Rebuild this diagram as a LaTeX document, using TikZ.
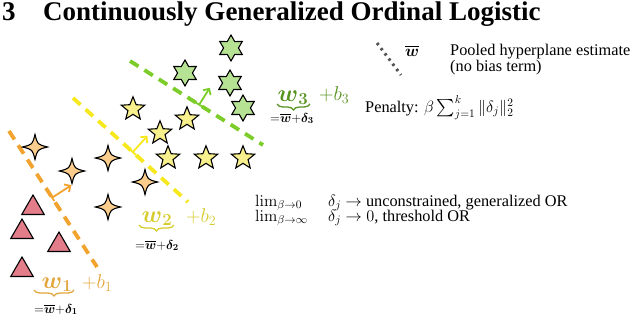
\RequirePackage{fix-cm}
\documentclass[tikz,border=0pt]{standalone}
\usepackage{amsmath}
\usepackage[no-math]{fontspec}
\setmainfont{Liberation Serif}
\usetikzlibrary{shapes.geometric,arrows.meta,decorations.pathreplacing,calc}
\definecolor{orangeline}{RGB}{242,163,45}
\definecolor{orangelabel}{RGB}{226,166,62}
\definecolor{yellowline}{RGB}{247,232,30}
\definecolor{yellowlabel}{RGB}{214,204,45}
\definecolor{greenline}{RGB}{125,205,42}
\definecolor{greenlabel}{RGB}{88,148,35}
\definecolor{trifill}{RGB}{226,125,137}
\definecolor{fourfill}{RGB}{250,205,140}
\definecolor{fivefill}{RGB}{248,240,140}
\definecolor{sixfill}{RGB}{182,226,148}
\definecolor{legendgray}{RGB}{85,85,85}
\tikzset{
  tri/.style={regular polygon, regular polygon sides=3, minimum size=26pt, inner sep=0pt, draw=black, line width=1.1pt, fill=trifill},
  fivept/.style={star, star points=5, star point ratio=2.3, minimum size=24.5pt, inner sep=0pt, draw=black, line width=1.1pt, fill=fivefill},
  sixpt/.style={star, star points=6, star point ratio=1.75, minimum size=26pt, inner sep=0pt, draw=black, line width=1.1pt, fill=sixfill},
  fourstar/.pic={\draw[line width=1.1pt, fill=fourfill, line join=miter] (0,-12.5) .. controls (2.5,-2.5) .. (12.5,0) .. controls (2.5,2.5) .. (0,12.5) .. controls (-2.5,2.5) .. (-12.5,0) .. controls (-2.5,-2.5) .. cycle;},
  dashline/.style={line width=3.8pt, dash pattern=on 10pt off 7pt},
  normarrow/.style={line width=1.8pt, -{Straight Barb[length=4.5pt,width=9pt]}},
  basetick/.style={line width=1.8pt},
  bracestyle/.style={line width=1.3pt, decorate, decoration={brace, mirror, amplitude=6pt}},
  wlbl/.style={font=\fontsize{24}{26}\selectfont, inner sep=0pt, anchor=base},
  blbl/.style={font=\fontsize{20}{22}\selectfont, inner sep=0pt, anchor=base west},
  eqlbl/.style={font=\fontsize{13}{14}\selectfont, inner sep=0pt, anchor=base, text=black},
  txt/.style={font=\fontsize{16.3}{19}\selectfont, inner sep=0pt, anchor=base west},
  titletxt/.style={font=\fontsize{27}{30}\selectfont\bfseries, inner sep=0pt, anchor=base west}
}
\begin{document}
\begin{tikzpicture}[x=1pt,y=-1pt]
\useasboundingbox (0,0) rectangle (640,316);
% title
\node[titletxt] (num) at (2,20) {3};
\node[titletxt] (title) at (43,20) {Continuously Generalized Ordinal Logistic};

% hyperplanes
\coordinate (o1) at (9,131);
\coordinate (o2) at (97,267);
\coordinate (y1) at (73,98);
\coordinate (y2) at (188,202);
\coordinate (g1) at (130,61);
\coordinate (g2) at (263,145);
\draw[dashline, orangeline] (o1) -- (o2);
\draw[dashline, yellowline] (y1) -- (y2);
\draw[dashline, greenline] (g1) -- (g2);

% triangles
\node[tri] (t1) at (33,208) {};
\node[tri] (t2) at (22,232) {};
\node[tri] (t3) at (59,245) {};
\node[tri] (t4) at (22,270) {};

% four-pointed stars
\pic (f1) at (35,147) {fourstar};
\pic (f2) at (72,171) {fourstar};
\pic (f3) at (108,158) {fourstar};
\pic (f4) at (145,182) {fourstar};
\pic (f5) at (108,207) {fourstar};

% five-pointed stars
\node[fivept] (s1) at (133,109) {};
\node[fivept] (s2) at (187,119) {};
\node[fivept] (s3) at (160,133) {};
\node[fivept] (s4) at (168,158) {};
\node[fivept] (s5) at (206,158) {};
\node[fivept] (s6) at (243,158) {};

% six-pointed stars
\node[sixpt] (h1) at (231,48) {};
\node[sixpt] (h2) at (185,73) {};
\node[sixpt] (h3) at (230,83) {};
\node[sixpt] (h4) at (243,108) {};

% normal vectors
\coordinate (ob) at ($(o1)!0.49!(o2)$);
\coordinate (ot) at ($(ob)!23pt!90:(o2)$);
\draw[normarrow, orangeline] (ob) -- (ot);
\draw[basetick, orangeline] ($(ob)!4pt!(o1)$) -- ($(ob)!4pt!(o2)$);
\coordinate (yb) at ($(y1)!0.52!(y2)$);
\coordinate (yt) at ($(yb)!22pt!90:(y2)$);
\draw[normarrow, yellowline] (yb) -- (yt);
\draw[basetick, yellowline] ($(yb)!4pt!(y1)$) -- ($(yb)!4pt!(y2)$);
\coordinate (gb) at ($(g1)!0.52!(g2)$);
\coordinate (gt) at ($(gb)!20pt!90:(g2)$);
\draw[normarrow, greenline] (gb) -- (gt);
\draw[basetick, greenline] ($(gb)!4pt!(g1)$) -- ($(gb)!4pt!(g2)$);

% labels 1
\node[wlbl, text=orangelabel] (w1) at (57,288) {$\boldsymbol{w}_{\boldsymbol{1}}$};
\node[blbl, text=orangelabel] (b1) at (82,288) {$+b_1$};
\coordinate (br1a) at (34,290);
\coordinate (br1b) at (74,290);
\draw[bracestyle, orangelabel] (br1a) -- (br1b);
\node[eqlbl] (e1) at (56,313) {${=}\overline{\boldsymbol{w}}{+}\boldsymbol{\delta_1}$};
% labels 2
\node[wlbl, text=yellowlabel] (w2) at (157,222) {$\boldsymbol{w}_{\boldsymbol{2}}$};
\node[blbl, text=yellowlabel] (b2) at (186,222) {$+b_2$};
\coordinate (br2a) at (139,225);
\coordinate (br2b) at (174,225);
\draw[bracestyle, yellowlabel] (br2a) -- (br2b);
\node[eqlbl] (e2) at (157,249) {${=}\overline{\boldsymbol{w}}{+}\boldsymbol{\delta_2}$};
% labels 3
\node[wlbl, text=greenlabel] (w3) at (293,101) {$\boldsymbol{w}_{\boldsymbol{3}}$};
\node[blbl, text=greenlabel] (b3) at (319,100) {$+b_3$};
\coordinate (br3a) at (277,104);
\coordinate (br3b) at (310,104);
\draw[bracestyle, greenlabel] (br3a) -- (br3b);
\node[eqlbl] (e3) at (292,122) {${=}\overline{\boldsymbol{w}}{+}\boldsymbol{\delta_3}$};

% legend
\coordinate (d1) at (377,43);
\coordinate (d2) at (401,75);
\draw[line width=3pt, dash pattern=on 2.5pt off 4pt, legendgray] (d1) -- (d2);
\node[txt] (wbar) at (405,56) {$\overline{\boldsymbol{w}}$};
\node[txt] (pooled) at (450,55) {Pooled hyperplane estimate};
\node[txt] (nobias) at (450,71) {(no bias term)};
\node[txt] (penalty) at (365,112) {Penalty: $\beta\sum_{j=1}^{k}\|\delta_j\|_2^2$};

% limits
\node[txt] (lim0) at (255,206) {$\lim_{\beta\to 0}$};
\node[txt] (res0) at (328,206) {$\delta_j\to$ unconstrained, generalized OR};
\node[txt] (liminf) at (255,221) {$\lim_{\beta\to\infty}$};
\node[txt] (resinf) at (328,221) {$\delta_j\to 0$, threshold OR};
\end{tikzpicture}
\end{document}
